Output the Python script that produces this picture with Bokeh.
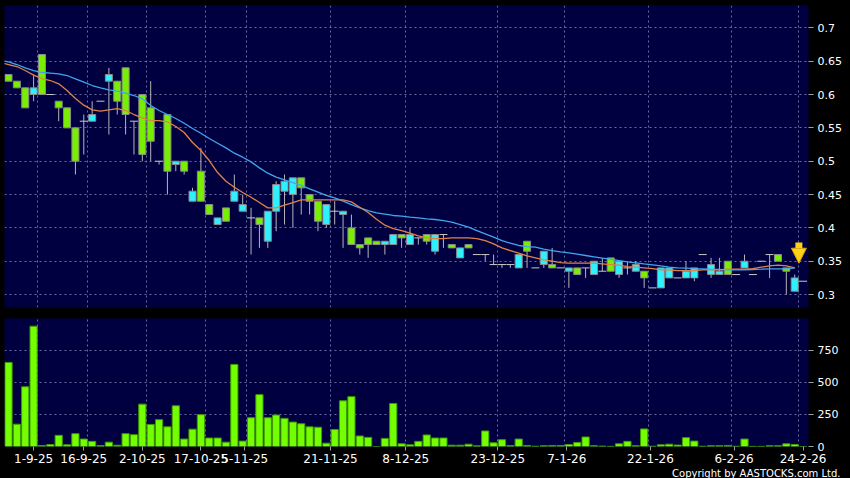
from bokeh.plotting import figure
from bokeh.layouts import column
from bokeh.models import ColumnDataSource, Range1d, FixedTicker, Title, Arrow, NormalHead
from bokeh.embed import file_html
from bokeh.resources import INLINE

# ---------------- data ----------------
bar_no = list(range(1, 97))
opens = [.63, .62, .61, .60, .66, .60, .59, .58, .55, .56,
         .56, .59, .62, .62, .64, .56, .60, .58, .50, .57,
         .495, .50, .44, .485, .435, .405, .43, .44, .425, .415,
         .415, .38, .425, .455, .45, .475, .45, .44, .405, .425,
         .42, .40, .375, .385, .38, .375, .375, .39, .375, .385,
         .39, .365, .39, .375, .355, .375, .36, .36, .345, .345,
         .345, .34, .38, .34, .345, .345, .34, .335, .34, .34,
         .33, .335, .355, .33, .34, .335, .335, .31, .31, .325,
         .325, .325, .325, .36, .33, .33, .35, .33, .34, .33,
         .35, .36, .36, .34, .305, .32]
highs = [.63, .62, .61, .63, .66, .60, .59, .58, .55, .57,
         .59, .59, .64, .62, .64, .56, .60, .62, .50, .57,
         .50, .50, .46, .52, .435, .415, .43, .48, .45, .43,
         .415, .425, .47, .48, .475, .475, .45, .44, .435, .44,
         .425, .42, .375, .385, .38, .38, .39, .39, .40, .385,
         .39, .39, .39, .375, .37, .375, .36, .36, .36, .345,
         .345, .36, .38, .34, .365, .37, .34, .34, .34, .34,
         .35, .355, .355, .35, .35, .35, .335, .31, .34, .34,
         .325, .35, .34, .36, .355, .355, .35, .33, .36, .33,
         .35, .36, .36, .34, .33, .32]
lows = [.62, .61, .58, .59, .60, .60, .56, .55, .48, .51,
        .56, .59, .54, .57, .54, .51, .50, .50, .495, .45,
        .485, .48, .44, .44, .42, .405, .41, .44, .425, .36,
        .37, .37, .395, .405, .40, .42, .42, .395, .40, .405,
        .37, .375, .36, .355, .375, .36, .375, .37, .375, .375,
        .375, .36, .37, .37, .355, .37, .36, .35, .345, .34,
        .34, .34, .34, .34, .34, .34, .34, .31, .33, .325,
        .33, .335, .335, .325, .33, .335, .31, .31, .31, .325,
        .325, .325, .32, .36, .325, .33, .33, .33, .34, .33,
        .35, .325, .35, .30, .305, .32]
closes = [.62, .61, .58, .61, .60, .60, .58, .55, .50, .56,
          .57, .59, .63, .59, .57, .56, .51, .53, .50, .485,
          .50, .485, .455, .44, .42, .415, .41, .455, .435, .415,
          .405, .425, .465, .47, .475, .46, .44, .41, .435, .425,
          .425, .375, .37, .375, .375, .38, .39, .385, .39, .385,
          .38, .39, .39, .37, .37, .37, .36, .36, .345, .345,
          .345, .36, .365, .34, .365, .34, .34, .34, .33, .34,
          .35, .335, .335, .35, .34, .345, .325, .31, .34, .34,
          .325, .335, .34, .36, .345, .335, .33, .33, .35, .33,
          .35, .36, .35, .335, .325, .32]
volumes = [655, 174, 465, 937, 8, 15, 87, 13, 100, 58,
           40, 8, 34, 10, 100, 92, 330, 172, 209, 153,
           317, 58, 135, 248, 66, 66, 34, 639, 42, 224,
           404, 224, 245, 219, 190, 177, 153, 150, 26, 132,
           356, 388, 82, 71, 0, 63, 335, 21, 13, 40,
           90, 66, 66, 10, 10, 18, 5, 121, 29, 53,
           8, 58, 8, 2, 6, 8, 8, 15, 32, 74,
           6, 3, 1, 21, 40, 6, 137, 2, 13, 18,
           11, 69, 42, 2, 6, 6, 8, 2, 58, 1,
           1, 6, 6, 21, 16, 0]

ma_x = list(range(0, 96))
ma_short = [.648, .645, .642, .636, .629, .624, .621, .616, .606, .594,
            .584, .577, .575, .577, .579, .576, .570, .565, .561, .561,
            .559, .552, .543, .528, .516, .501, .483, .470, .461, .453,
            .446, .438, .430, .430, .434, .438, .442, .442, .442, .442,
            .442, .442, .439, .431, .423, .413, .404, .399, .396, .392,
            .388, .385, .384, .384, .385, .385, .385, .384, .381, .376,
            .370, .366, .362, .358, .355, .352, .350, .348, .347, .347,
            .347, .347, .346, .345, .344, .342, .341, .340, .339, .337,
            .337, .336, .336, .336, .337, .337, .337, .338, .338, .338,
            .339, .341, .343, .344, .343, .340]
ma_long = [.651, .649, .645, .640, .636, .633, .632, .631, .6285, .6235,
           .6185, .6135, .610, .607, .605, .602, .5985, .5935, .5835, .576,
           .570, .564, .557, .549, .542, .534, .527, .520, .512, .506,
           .499, .490, .482, .476, .472, .468, .4636, .4586, .4536, .4486,
           .445, .440, .435, .430, .426, .4226, .4206, .4186, .4176, .416,
           .415, .4136, .4126, .411, .4086, .405, .401, .396, .391, .386,
           .381, .377, .3736, .372, .371, .368, .366, .364, .3626, .3606,
           .3586, .3566, .3546, .353, .351, .349, .3476, .346, .3446, .343,
           .341, .340, .3396, .339, .3386, .338, .3376, .337, .337, .337,
           .3376, .338, .3386, .3386, .3386, .340]

date_tick_pos = [4, 10, 17, 24, 29.25, 39.5, 48.5, 59.5, 67.75, 77.75, 87.75, 96]
date_tick_labels = ["1-9-25", "16-9-25", "2-10-25", "17-10-25", "5-11-25", "21-11-25",
                    "8-12-25", "23-12-25", "7-1-26", "22-1-26", "6-2-26", "24-2-26"]
date_grid_pos = [4.5, 10.5, 17.5, 24.5, 29.5, 39.5, 48.5, 59.5, 67.5, 77.5, 87.5, 95.5]
price_ticks = [0.3, 0.35, 0.4, 0.45, 0.5, 0.55, 0.6, 0.65, 0.7]
price_tick_labels = ["0.3", "0.35", "0.4", "0.45", "0.5", "0.55", "0.6", "0.65", "0.7"]
vol_ticks = [0, 250, 500, 750]
vol_tick_labels = ["0", "250", "500", "750"]
marker_bar = 95.5
marker_top = 0.378
marker_tip = 0.347
copyright_text = "Copyright by AASTOCKS.com Ltd."

# ---------------- styles ----------------
NAVY = "#000040"
LIME = "#78ee00"
CYAN = "#2ef0ff"
GRID = "#6a6a9c"
FONT = "DejaVu Sans"

up_idx = [i for i in range(len(bar_no)) if closes[i] > opens[i]]
dn_idx = [i for i in range(len(bar_no)) if closes[i] < opens[i]]
fl_idx = [i for i in range(len(bar_no)) if closes[i] == opens[i]]


def sub(idx):
    return ColumnDataSource(dict(
        x=[bar_no[i] for i in idx],
        top=[max(opens[i], closes[i]) for i in idx],
        bottom=[min(opens[i], closes[i]) for i in idx],
        price=[closes[i] for i in idx],
    ))


def style_axis(ax, ticks, labels, size="11px"):
    ax.ticker = FixedTicker(ticks=ticks)
    ax.major_label_overrides = dict(zip(ticks, labels))
    ax.axis_line_color = None
    ax.major_tick_line_color = "#a0a0a0"
    ax.minor_tick_line_color = None
    ax.major_tick_in = 0
    ax.major_tick_out = 5
    ax.major_label_standoff = 4
    ax.axis_label_standoff = 0
    ax.major_label_text_color = "white"
    ax.major_label_text_font = FONT
    ax.major_label_text_font_size = size


def style_grid(g, ticks):
    g.ticker = FixedTicker(ticks=ticks)
    g.grid_line_color = GRID
    g.grid_line_dash = "2 3"
    g.grid_line_width = 1


x_range = Range1d(0.52, 96.65)

# ---------------- price panel ----------------
p1 = figure(width=850, height=312, x_range=x_range, y_range=Range1d(0.2806, 0.7335),
            output_backend="svg", toolbar_location=None, x_axis_location=None,
            y_axis_location="right", background_fill_color=NAVY,
            border_fill_color="black", outline_line_color=None,
            min_border_left=4, min_border_right=42, min_border_top=5, min_border_bottom=5)
style_axis(p1.yaxis[0], price_ticks, price_tick_labels)
style_grid(p1.ygrid[0], price_ticks)
style_grid(p1.xgrid[0], date_grid_pos)

wick_src = ColumnDataSource(dict(x=bar_no, hi=highs, lo=lows))
p1.segment(x0="x", y0="lo", x1="x", y1="hi", source=wick_src, line_color="#b4b4b4", line_width=1)
p1.vbar(x="x", top="top", bottom="bottom", width=0.84, source=sub(dn_idx),
        fill_color=LIME, line_color="#8a8a8a", line_width=1)
p1.vbar(x="x", top="top", bottom="bottom", width=0.84, source=sub(up_idx),
        fill_color=CYAN, line_color="#8a8a8a", line_width=1)
p1.scatter(x="x", y="price", source=sub(fl_idx), marker="dash", size=8,
           line_color="#c8c8c8", line_width=1)

p1.line(ma_x, ma_long, line_color="#3fa6ee", line_width=1.3)
p1.line(ma_x, ma_short, line_color="#e08245", line_width=1.3)

p1.add_layout(Arrow(end=NormalHead(size=15, fill_color="#ffd21a", line_color="#e0a000", line_width=1),
                    x_start=marker_bar, y_start=marker_top, x_end=marker_bar, y_end=marker_tip,
                    line_color="#ffd21a", line_width=7))

# ---------------- volume panel ----------------
p2 = figure(width=850, height=166, x_range=x_range, y_range=Range1d(0, 997),
            output_backend="svg", toolbar_location=None,
            y_axis_location="right", background_fill_color=NAVY,
            border_fill_color="black", outline_line_color=None,
            min_border_left=4, min_border_right=42, min_border_top=6, min_border_bottom=0)
style_axis(p2.yaxis[0], vol_ticks, vol_tick_labels)
style_axis(p2.xaxis[0], date_tick_pos, date_tick_labels, size="12px")
p2.xaxis[0].major_tick_out = 4
p2.xaxis[0].major_label_standoff = 3
style_grid(p2.ygrid[0], vol_ticks[1:])
style_grid(p2.xgrid[0], date_grid_pos)

p2.vbar(x=bar_no, top=volumes, bottom=0, width=0.86,
        fill_color="#74ff00", line_color="#3f9a00", line_width=1)

p2.add_layout(Title(text=copyright_text, align="right", text_color="white",
                    text_font=FONT, text_font_size="10px", text_font_style="normal",
                    offset=-32, standoff=0), "below")

layout = column(p1, p2, spacing=0, background="black")
open("out.html", "w").write(file_html(layout, INLINE))
